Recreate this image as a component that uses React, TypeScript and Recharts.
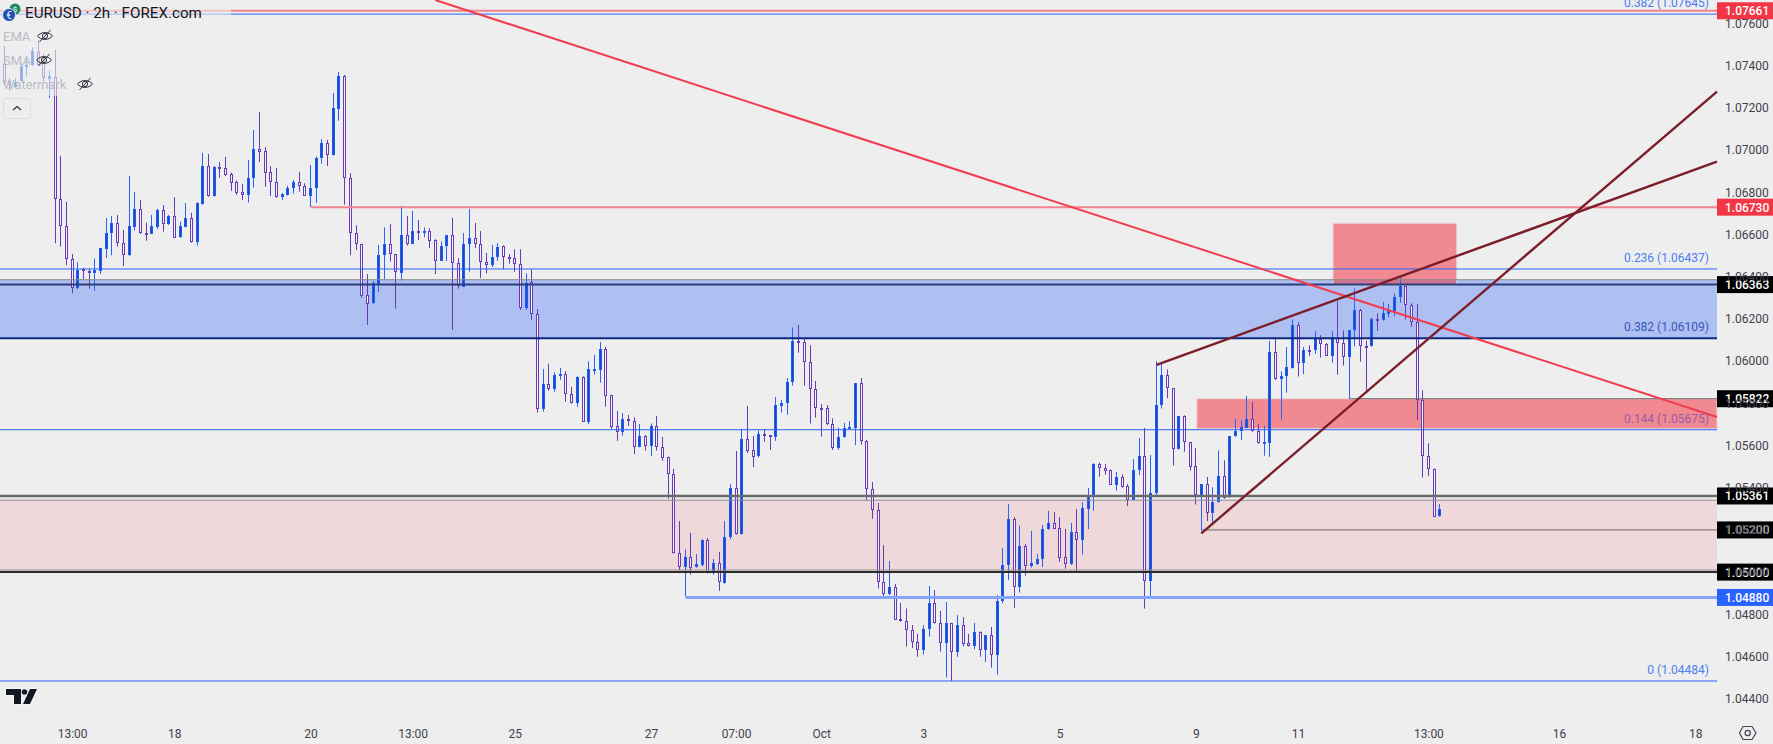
import React from "react";
import {
  ComposedChart,
  Bar,
  XAxis,
  YAxis,
  ReferenceLine,
  ReferenceArea,
  ReferenceDot,
} from "recharts";

const WIDTH = 1773;
const HEIGHT = 744;
const BG = "#eeeeee";
const FONT = "Roboto, Arial, sans-serif";

// prices x 100000, one entry per 2h candle
const opens = [
  107407,107330,107301,107330,107396,107403,107467,107420,107339,107349,
  106767,106639,106483,106345,106436,106426,106420,106429,106534,106606,
  106654,106559,106505,106638,106720,106608,106605,106638,106715,106652,
  106687,106587,106638,106677,106567,106745,106924,106782,106919,106914,
  106886,106848,106801,106786,106867,107004,106995,106895,106848,106777,
  106789,106819,106848,106829,106785,106819,106962,107033,106979,107197,
  107350,106867,106606,106554,106312,106274,106366,106502,106554,106506,
  106420,106597,106557,106617,106614,106615,106573,106476,106544,106597,
  106464,106353,106554,106582,106554,106469,106454,106492,106544,106492,
  106487,106459,106254,106374,106222,105772,105890,105870,105931,105938,
  105843,105800,105923,105713,105960,105960,106056,105838,105691,105663,
  105724,105715,105595,105644,105600,105691,105595,105544,105464,105089,
  105026,105070,105023,105035,105151,104994,105042,104950,105165,105397,
  105179,105630,105577,105549,105653,105649,105639,105789,105800,105900,
  106094,106089,105994,105866,105778,105776,105704,105590,105639,105680,
  105685,105895,105621,105392,105293,104952,104895,104928,104776,104767,
  104724,104667,104632,104729,104852,104757,104662,104757,104623,104748,
  104662,104648,104715,104632,104700,104606,104861,105032,105250,104928,
  105122,105031,105038,105064,105203,105231,105207,105070,105038,105189,
  105151,105301,105358,105511,105492,105482,105414,105449,105407,105343,
  105482,105549,104959,105374,105791,105933,105871,105582,105740,105615,
  105502,105367,105416,105279,105331,105454,105355,105644,105667,105685,
  105724,105669,105614,105614,106042,105917,105931,105969,106170,105990,
  106053,106051,106107,106080,106026,106108,106085,106018,106146,106241,
  106072,106070,106198,106194,106225,106236,106306,106356,106265,106184,
  105814,105552,105487,105265,
];
const highs = [
  107494,107341,107341,107412,107431,107488,107523,107459,107377,107475,
  106973,106755,106508,106470,106442,106439,106486,106535,106679,106688,
  106693,106622,106878,106802,106764,106657,106693,106722,106740,106693,
  106777,106661,106750,106703,106753,106987,106982,106925,106944,106968,
  106894,106857,106840,106954,107096,107181,107015,106925,106916,106796,
  106831,106859,106897,106843,106930,106970,107053,107049,107271,107371,
  107357,106891,106644,106556,106413,106380,106551,106634,106650,106508,
  106736,106688,106712,106669,106634,106630,106578,106568,106598,106679,
  106489,106608,106721,106655,106617,106513,106551,106560,106549,106508,
  106530,106530,106416,106435,106247,105963,105988,105947,105968,105952,
  105878,105928,105928,105999,106029,106091,106067,105841,105764,105754,
  105745,105734,105702,105650,105705,105740,105641,105547,105489,105242,
  105108,105186,105086,105156,105162,105062,105096,105242,105418,105574,
  105679,105788,105645,105671,105679,105649,105830,105816,105920,106160,
  106171,106108,106076,105906,105797,105792,105729,105685,105707,105715,
  105895,105920,105626,105427,105328,105128,105053,104944,104854,104828,
  104749,104707,104749,104934,104915,104816,104858,104760,104797,104787,
  104707,104759,104719,104700,104740,104891,105114,105323,105261,105220,
  105133,105196,105086,105223,105290,105285,105261,105204,105233,105299,
  105332,105399,105516,105519,105512,105487,105475,105463,105418,105536,
  105636,105683,105555,106001,105995,105961,105871,105740,105743,105615,
  105588,105416,105451,105402,105577,105530,105644,105726,105721,105835,
  105807,105702,105693,106096,106113,105952,106067,106198,106184,106067,
  106075,106143,106123,106086,106143,106284,106146,106146,106345,106247,
  106097,106206,106227,106281,106271,106320,106397,106356,106274,106271,
  105862,105611,105491,105323,
];
const lows = [
  107309,107282,107294,107325,107349,107399,107399,107325,107248,106559,
  106543,106455,106322,106341,106388,106344,106334,106413,106489,106502,
  106543,106451,106499,106619,106603,106571,106603,106627,106614,106646,
  106584,106584,106635,106562,106548,106742,106780,106780,106870,106878,
  106807,106789,106764,106752,106823,106944,106827,106783,106775,106764,
  106785,106794,106804,106783,106731,106750,106936,106925,106974,107140,
  106742,106503,106527,106300,106172,106271,106328,106388,106472,106249,
  106382,106548,106555,106574,106587,106536,106413,106475,106475,106148,
  106344,106352,106424,106536,106394,106416,106446,106476,106435,106462,
  106423,106243,106243,106195,105756,105761,105860,105855,105911,105807,
  105799,105783,105712,105702,105936,105898,105784,105679,105622,105647,
  105693,105560,105592,105576,105551,105576,105528,105348,105088,105010,
  104884,104988,105021,105026,104993,104988,104911,104945,105156,105178,
  105178,105565,105498,105544,105618,105579,105622,105756,105746,105884,
  106040,105884,105704,105732,105642,105697,105579,105580,105637,105678,
  105602,105604,105339,105253,104922,104884,104891,104773,104765,104647,
  104640,104599,104609,104694,104756,104623,104500,104484,104599,104648,
  104647,104634,104599,104574,104547,104514,104852,104963,104831,104903,
  104983,105021,105034,105024,105201,105204,105049,105016,105034,105001,
  105083,105204,105291,105452,105462,105413,105386,105400,105313,105340,
  105460,104827,104887,105364,105775,105825,105505,105581,105571,105481,
  105320,105197,105242,105228,105329,105348,105353,105642,105626,105683,
  105666,105609,105552,105547,105911,105723,105851,105965,105927,105939,
  106025,106034,106017,106025,105993,105936,105979,105822,106069,105998,
  105852,106069,106143,106192,106208,106211,106277,106197,106162,105721,
  105448,105456,105260,105263,
];
const closes = [
  107317,107309,107325,107399,107404,107469,107404,107341,107352,106767,
  106639,106483,106347,106432,106426,106421,106432,106535,106606,106654,
  106559,106505,106639,106720,106606,106605,106639,106717,106652,106687,
  106586,106639,106677,106567,106748,106924,106782,106922,106914,106884,
  106846,106799,106786,106867,107004,106993,106894,106848,106777,106793,
  106819,106848,106829,106785,106819,106962,107033,106979,107199,107352,
  106867,106606,106554,106311,106273,106369,106502,106554,106506,106421,
  106597,106557,106615,106614,106617,106571,106476,106544,106597,106464,
  106355,106554,106582,106554,106469,106454,106492,106543,106492,106486,
  106459,106254,106372,106222,105772,105890,105870,105933,105938,105843,
  105800,105923,105713,105961,105963,106056,105837,105688,105663,105724,
  105715,105595,105644,105600,105691,105595,105543,105464,105089,105026,
  105070,105021,105037,105151,104994,105042,104952,105165,105397,105179,
  105630,105576,105547,105653,105647,105639,105791,105800,105900,106094,
  106088,105994,105866,105776,105775,105702,105590,105639,105681,105686,
  105895,105621,105392,105293,104952,104895,104928,104775,104767,104724,
  104667,104632,104729,104852,104757,104662,104757,104623,104748,104661,
  104648,104715,104632,104700,104606,104861,105032,105250,104928,105122,
  105031,105042,105064,105203,105231,105206,105068,105040,105189,105151,
  105302,105359,105511,105492,105481,105414,105449,105405,105343,105482,
  105549,104959,105377,105791,105933,105871,105582,105740,105615,105500,
  105367,105416,105279,105331,105454,105353,105644,105669,105686,105724,
  105667,105614,105617,106042,105916,105931,105971,106170,105990,106051,
  106050,106108,106080,106026,106108,106085,106018,106146,106241,106070,
  106069,106198,106194,106227,106236,106306,106358,106265,106184,105814,
  105552,105487,105263,105298,
];

const priceTicks = [
  1.044, 1.046, 1.048, 1.05, 1.052, 1.054, 1.056, 1.058, 1.06, 1.062, 1.064,
  1.066, 1.068, 1.07, 1.072, 1.074, 1.076,
];
const timeTickIndex = [12, 30, 54, 72, 90, 114, 129, 144, 162, 186, 210, 228, 251, 274, 298];
const timeTickLabels = ["13:00", "18", "20", "13:00", "25", "27", "07:00", "Oct", "3", "5", "9", "11", "13:00", "16", "18"];

const xDomain: [number, number] = [-0.793, 301.76];
const yDomain: [number, number] = [1.04318, 1.07712];

const candles = opens.map((o, i) => ({
  i,
  open: o / 100000,
  high: highs[i] / 100000,
  low: lows[i] / 100000,
  close: closes[i] / 100000,
}));

// fib levels: price, caption, caption colour
const fibPrices = [1.07645, 1.06437, 1.06109, 1.05675, 1.04484];
const fibCaptions = ["0.382 (1.07645)", "0.236 (1.06437)", "0.382 (1.06109)", "0.144 (1.05675)", "0 (1.04484)"];
const fibColors = ["#4c7df2", "#4c7df2", "#3757b8", "#9a5aa8", "#4c7df2"];

const tagPrices = [1.07661, 1.0673, 1.06363, 1.05822, 1.05361, 1.052, 1.05, 1.0488];
const tagColors = ["#f23645", "#f23645", "#000", "#000", "#000", "#000", "#000", "#2962ff"];

function Candle(props: any) {
  const { x, y, width, height, payload } = props;
  const up = payload.close >= payload.open;
  const pxPerPrice = height / (payload.high - payload.low);
  const bodyHigh = Math.max(payload.open, payload.close);
  const bodyLow = Math.min(payload.open, payload.close);
  const cx = Math.floor(x + width / 2) + 0.5;
  const top = Math.round(y + (payload.high - bodyHigh) * pxPerPrice) + 0.5;
  const bottom = Math.round(y + (payload.high - bodyLow) * pxPerPrice) - 0.5;
  const wick = up ? "#2962ff" : "#673ab7";
  return (
    <g>
      <line x1={cx} x2={cx} y1={y} y2={y + height} stroke={wick} strokeWidth={1} />
      <rect
        x={cx - 1}
        y={top}
        width={2}
        height={Math.max(bottom - top, 1)}
        fill={up ? "#1b45c4" : "#f4f4f4"}
        stroke={up ? "#1f5cf0" : "#673ab7"}
        strokeWidth={1}
      />
    </g>
  );
}

function PriceTag(props: any) {
  const { cx, cy, text, bg } = props;
  return (
    <g>
      <rect x={cx} y={cy - 8.5} width={56} height={17} fill={bg} />
      <text x={cx + 8} y={cy + 4.5} fill="#fff" fontSize={12} fontWeight={500} fontFamily={FONT}>
        {text}
      </text>
    </g>
  );
}

function FibCaption(props: any) {
  const { cx, cy, text, color } = props;
  return (
    <text x={cx - 8} y={cy - 7} fill={color} fontSize={12} textAnchor="end" fontFamily={FONT}>
      {text}
    </text>
  );
}

function EyeOff({ x, y }: { x: number; y: number }) {
  return (
    <svg
      style={{ position: "absolute", left: x - 9, top: y - 9 }}
      width={18}
      height={18}
      viewBox="0 0 18 18"
      fill="none"
      stroke="#2a2e39"
      strokeWidth={1}
    >
      <path d="M1.5 9 C5 4.5 13 4.5 16.5 9 C13 13.5 5 13.5 1.5 9 Z" />
      <circle cx={9} cy={9} r={2.6} />
      <path d="M3.5 15 L14.5 3" />
    </svg>
  );
}

function Legend() {
  const faded: React.CSSProperties = { position: "absolute", left: 3, color: "#b9bcc4", fontSize: 13, fontFamily: FONT };
  return (
    <>
      <div style={{ position: "absolute", left: 0, top: 0, width: 231, height: 21, background: "rgba(238,238,238,0.6)" }} />
      <div style={{ position: "absolute", left: 0, top: 24, width: 95, height: 72, background: "rgba(238,238,238,0.6)" }} />
      <svg style={{ position: "absolute", left: 0, top: 0 }} width={26} height={26}>
        <circle cx={15} cy={9} r={5.5} fill="#1e8a5f" />
        <text x={15} y={12} fontSize={8} fill="#fff" textAnchor="middle" fontFamily={FONT}>$</text>
        <circle cx={9} cy={15} r={6.5} fill="#1e4fb5" stroke="#eee" />
        <text x={9} y={18.5} fontSize={10} fill="#fff" textAnchor="middle" fontFamily={FONT}>€</text>
      </svg>
      <div style={{ position: "absolute", left: 25, top: 4, color: "#131722", fontSize: 15.2, fontFamily: FONT, whiteSpace: "nowrap" }}>
        EURUSD · 2h · FOREX.com
      </div>
      <div style={{ ...faded, top: 29 }}>EMA</div>
      <div style={{ ...faded, top: 53 }}>SMA</div>
      <div style={{ ...faded, top: 77 }}>Watermark</div>
      <EyeOff x={45} y={36} />
      <EyeOff x={44} y={60} />
      <EyeOff x={85} y={84} />
      <div
        style={{
          position: "absolute",
          left: 3,
          top: 98,
          width: 28,
          height: 21,
          border: "1px solid #dcdde0",
          borderRadius: 3,
          boxSizing: "border-box",
        }}
      >
        <svg width={26} height={19} fill="none" stroke="#2a2e39" strokeWidth={1.2}>
          <path d="M9 11 L13 7.5 L17 11" />
        </svg>
      </div>
      {/* TradingView mark */}
      <svg style={{ position: "absolute", left: 3, top: 686 }} width={36} height={22}>
        <g fill="#131722" stroke="#fff" strokeWidth={1} paintOrder="stroke">
          <path d="M3 3 H18 V18 H11 V9 H3 Z" />
          <circle cx={21.5} cy={6} r={2.8} />
          <path d="M27 3 H34 L27 18 H20 Z" />
        </g>
      </svg>
      {/* settings gear */}
      <svg style={{ position: "absolute", left: 1738, top: 724 }} width={20} height={18} fill="none" stroke="#434651" strokeWidth={1.2}>
        <path d="M5 2.5 H14 L18 9 L14 15.5 H5 L1.5 9 Z" />
        <circle cx={9.7} cy={9} r={2.6} />
      </svg>
    </>
  );
}

export default function App() {
  return (
    <div style={{ position: "fixed", left: 0, top: 0, width: WIDTH, height: HEIGHT, background: BG, overflow: "hidden" }}>
      <ComposedChart
        width={WIDTH}
        height={HEIGHT}
        data={candles}
        margin={{ top: 0, right: 0, bottom: 0, left: 0 }}
      >
        <XAxis
          type="number"
          dataKey="i"
          domain={xDomain}
          allowDataOverflow
          ticks={timeTickIndex}
          interval={0}
          height={28}
          axisLine={false}
          tickLine={false}
          tickMargin={7}
          tick={{ fontSize: 12, fill: "#3f424d", fontFamily: FONT }}
          tickFormatter={(v: number) => timeTickLabels[timeTickIndex.indexOf(v)]}
        />
        <YAxis
          type="number"
          orientation="right"
          domain={yDomain}
          allowDataOverflow
          ticks={priceTicks}
          interval={0}
          width={56}
          axisLine={false}
          tickLine={false}
          tickMargin={2}
          tick={{ fontSize: 12, fill: "#3f424d", fontFamily: FONT }}
          tickFormatter={(v: number) => v.toFixed(5)}
        />

        {/* support / resistance zones */}
        <ReferenceArea y1={1.06386} y2={1.06109} fill="#aebff2" fillOpacity={1} stroke="none" />
        <ReferenceArea y1={1.05341} y2={1.05} fill="#eed8da" fillOpacity={1} stroke="none" />
        <ReferenceArea x1={210.1} x2={301.76} y1={1.05822} y2={1.0568} fill="#f23645" fillOpacity={0.55} stroke="#e6d4d6" />
        <ReferenceArea x1={234.1} x2={255.9} y1={1.06654} y2={1.06361} fill="#f23645" fillOpacity={0.55} stroke="#e6d4d6" />

        <ReferenceLine y={1.06386} stroke="#8a8a8a" strokeWidth={1} />
        <ReferenceLine y={1.05341} stroke="#8a8a8a" strokeWidth={1} />
        <ReferenceLine y={1.0501} stroke="#9a9090" strokeWidth={1} />
        <ReferenceLine y={1.07661} stroke="#f2858e" strokeWidth={2} />
        <ReferenceLine y={1.06363} stroke="#2c3e7a" strokeWidth={2} />
        <ReferenceLine y={1.05361} stroke="#6b6b6b" strokeWidth={2.5} />
        <ReferenceLine y={1.05} stroke="#2a2a2a" strokeWidth={2} />
        {fibPrices.map((p, k) => (
          <ReferenceLine key={p} y={p} stroke={k === 2 ? "#0d2a80" : "#2962ff"} strokeWidth={k === 2 ? 2 : 1} />
        ))}
        <ReferenceLine segment={[{ x: 54, y: 1.0673 }, { x: 301.76, y: 1.0673 }]} stroke="#f2858e" strokeWidth={2} />
        <ReferenceLine segment={[{ x: 237, y: 1.05822 }, { x: 301.76, y: 1.05822 }]} stroke="#6b6b6b" strokeWidth={1} />
        <ReferenceLine segment={[{ x: 211, y: 1.052 }, { x: 301.76, y: 1.052 }]} stroke="#6b6b6b" strokeWidth={1} />
        <ReferenceLine segment={[{ x: 120, y: 1.0488 }, { x: 301.76, y: 1.0488 }]} stroke="#82a4fa" strokeWidth={3} />

        <Bar
          dataKey={(d: any) => [d.low, d.high]}
          barSize={5}
          shape={<Candle />}
          isAnimationActive={false}
        />

        {/* trendlines */}
        <ReferenceLine segment={[{ x: 75.9, y: 1.07712 }, { x: 301.76, y: 1.05735 }]} stroke="#f23d4f" strokeWidth={2} />
        <ReferenceLine segment={[{ x: 203, y: 1.05982 }, { x: 301.76, y: 1.06946 }]} stroke="#7b1e2a" strokeWidth={2.4} />
        <ReferenceLine segment={[{ x: 210.9, y: 1.05184 }, { x: 301.76, y: 1.07278 }]} stroke="#7b1e2a" strokeWidth={2.4} />

        {fibPrices.map((p, k) => (
          <ReferenceDot
            key={p}
            x={xDomain[1]}
            y={p}
            ifOverflow="visible"
            shape={<FibCaption text={fibCaptions[k]} color={fibColors[k]} />}
          />
        ))}
        {tagPrices.map((p, k) => (
          <ReferenceDot
            key={p}
            x={xDomain[1]}
            y={p}
            ifOverflow="visible"
            shape={<PriceTag text={p.toFixed(5)} bg={tagColors[k]} />}
          />
        ))}
      </ComposedChart>
      <Legend />
    </div>
  );
}
